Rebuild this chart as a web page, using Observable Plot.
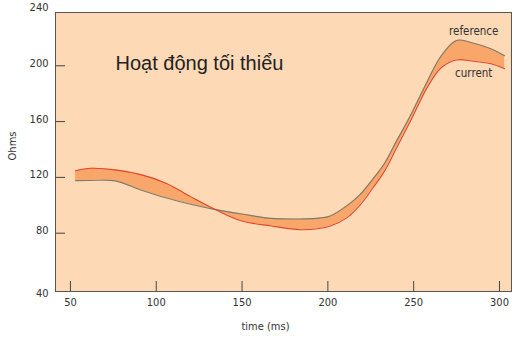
<!DOCTYPE html>
<html>
<head>
<meta charset="utf-8">
<script src="https://cdn.jsdelivr.net/npm/d3@7"></script>
<script src="https://cdn.jsdelivr.net/npm/@observablehq/plot@0.6"></script>
<style>
  html, body { margin: 0; padding: 0; background: #fff; }
  #chart svg { display: block; }
</style>
</head>
<body>
<div id="chart"></div>
<script>
const times = [53, 62, 76, 91, 106, 120, 134.5, 150, 167, 184, 193, 201, 211, 219, 226, 233, 240, 248, 258, 266, 275, 285, 295, 303];
const referenceValues = [117.7, 117.8, 117.5, 111, 105.2, 100.7, 96.9, 93.7, 90.6, 90.2, 90.6, 92.1, 99.6, 108, 118.5, 130, 146, 164, 189, 207, 218.2, 216.2, 212.2, 207.2];
const currentValues = [124.7, 126.5, 125.4, 122, 115.7, 106.2, 96.9, 88.7, 85.2, 82.5, 83, 84.9, 91, 100.5, 112, 124.5, 141, 160, 184.7, 198.6, 204.2, 203.2, 201.5, 197.9];
const xTicks = [50, 100, 150, 200, 250, 300];
const yTicks = [40, 80, 120, 160, 200, 240];
const titleText = "Hoạt động tối thiểu";
const seriesNames = ["reference", "current"];
const labelTime = 285;

const rows = times.map((t, i) => ({t, ref: referenceValues[i], cur: currentValues[i]}));
const labelRow = rows.filter(d => d.t === labelTime);

const font = "'DejaVu Sans Condensed', 'DejaVu Sans', sans-serif";

const chart = Plot.plot({
  width: 515,
  height: 338,
  marginLeft: 55,
  marginRight: 4,
  marginTop: 12,
  marginBottom: 47,
  style: {fontFamily: font, fontSize: "11px", color: "#333", background: "#fff", overflow: "visible"},
  x: {domain: [41.3, 307]},
  y: {domain: [38.2, 238.2]},
  marks: [
    Plot.frame({fill: "#fdd9b6", stroke: null}),
    Plot.areaY(rows, {x: "t", y1: "cur", y2: "ref", fill: "#f9a66b", curve: "catmull-rom"}),
    Plot.line(rows, {x: "t", y: "ref", stroke: "#7d7b6c", strokeWidth: 1.1, curve: "catmull-rom"}),
    Plot.line(rows, {x: "t", y: "cur", stroke: "#e2452b", strokeWidth: 1.1, curve: "catmull-rom"}),
    Plot.tickY(yTicks.slice(1, -1), {y: d => d, stroke: "#444", insetRight: 446}),
    Plot.tickX(xTicks, {x: d => d, stroke: "#444", insetTop: 269}),
    Plot.axisY(yTicks.slice(0, 1), {tickSize: 0, tickPadding: 7, dy: 4, label: null, fontSize: 11, fill: "#333"}),
    Plot.axisY(yTicks.slice(1), {tickSize: 0, tickPadding: 7, dy: -2.5, label: null, fontSize: 11, fill: "#333"}),
    Plot.axisX(xTicks, {tickSize: 0, tickPadding: 7, label: null, fontSize: 11, fill: "#333"}),
    Plot.frame({stroke: "#555", strokeWidth: 1}),
    Plot.text(labelRow, {x: "t", y: "ref", text: () => seriesNames[0], dy: -12, fontSize: 11.5, fill: "#333"}),
    Plot.text(labelRow, {x: "t", y: "cur", text: () => seriesNames[1], dy: 12, fontSize: 11.5, fill: "#333"}),
    Plot.text([titleText], {frameAnchor: "top-left", text: d => d, dx: 60, dy: 51.5, textAnchor: "start", lineAnchor: "middle", fontSize: 20, fontFamily: "'Liberation Sans', Arial, sans-serif", fill: "#222"}),
    Plot.text(["Ohms"], {frameAnchor: "left", text: d => d, rotate: -90, dx: -43, dy: -6, textAnchor: "middle", lineAnchor: "middle", fontSize: 11, fill: "#333"}),
    Plot.text(["time (ms)"], {frameAnchor: "bottom", text: d => d, dx: -18, dy: 35, lineAnchor: "middle", fontSize: 11, fill: "#333"})
  ]
});
document.getElementById("chart").appendChild(chart);
</script>
</body>
</html>
